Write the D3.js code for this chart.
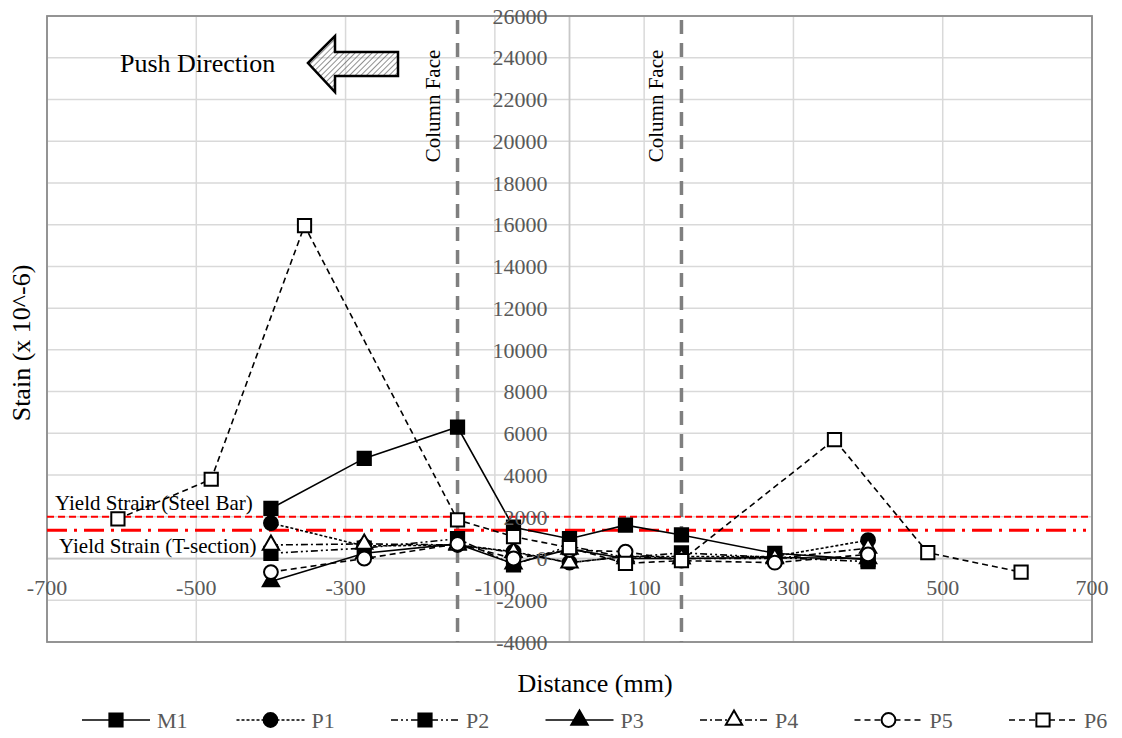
<!DOCTYPE html>
<html>
<head>
<meta charset="utf-8">
<script src="https://cdn.jsdelivr.net/npm/d3@7"></script>
<style>
  body { margin: 0; background: #fff; }
  text { font-family: "Liberation Serif", "Times New Roman", serif; }
</style>
</head>
<body>
<svg id="chart" width="1122" height="738"></svg>
<script>
// strain gauge positions (mm) and readings (x 10^-6)
var gaugeX = [-400, -275, -150, -75, 0, 75, 150, 275, 400];
var m1 = [2400, 4800, 6300, 1500, 950, 1600, 1130, 250, -50];
var p1 = [1700, 600, 650, 330, -200, 100, 100, 100, 880];
var p2 = [250, 500, 950, -300, 600, 50, 270, 50, -150];
var p3 = [-1100, 250, 700, -250, 450, 0, 0, 50, 0];
var p4 = [650, 700, 650, 300, -200, 100, 0, 0, 500];
var p5 = [-650, 0, 700, 0, 400, 330, -100, -200, 200];
var p6X = [-605, -480, -355, -150, -75, 0, 75, 150, 355, 480, 605];
var p6 = [1900, 3800, 15950, 1850, 1050, 520, -230, -100, 5700, 280, -650];

var yieldSteelBar = 2000;
var yieldTSection = 1350;
var columnFaces = [-150, 150];

var xTicks = [-700, -500, -300, -100, 100, 300, 500, 700];
var yTicks = d3.range(-4000, 26001, 2000);

var series = [
  {name: 'M1', xs: gaugeX, ys: m1, dash: null, marker: 'square', fill: '#000'},
  {name: 'P1', xs: gaugeX, ys: p1, dash: '3,2', marker: 'circle', fill: '#000'},
  {name: 'P2', xs: gaugeX, ys: p2, dash: '7,3,2,3,2,3', marker: 'square', fill: '#000'},
  {name: 'P3', xs: gaugeX, ys: p3, dash: null, marker: 'triangle', fill: '#000'},
  {name: 'P4', xs: gaugeX, ys: p4, dash: '7,3,2,3', marker: 'triangle', fill: '#fff'},
  {name: 'P5', xs: gaugeX, ys: p5, dash: '6,4', marker: 'circle', fill: '#fff'},
  {name: 'P6', xs: p6X, ys: p6, dash: '6,4', marker: 'square', fill: '#fff'}
];

var svg = d3.select('#chart');
var plotLeft = 47, plotRight = 1092, plotTop = 16, plotBottom = 642;

var x = d3.scaleLinear().domain([-700, 700]).range([plotLeft, plotRight]);
var y = d3.scaleLinear().domain([-4000, 26000]).range([plotBottom, plotTop]);

// hatch pattern for the arrow
var defs = svg.append('defs');
defs.append('pattern')
    .attr('id', 'hatch')
    .attr('patternUnits', 'userSpaceOnUse')
    .attr('width', 4).attr('height', 4)
    .attr('patternTransform', 'rotate(45)')
  .append('line')
    .attr('x1', 0).attr('y1', 0).attr('x2', 0).attr('y2', 4)
    .attr('stroke', '#555').attr('stroke-width', 1.3);

// gridlines
svg.append('g')
  .selectAll('line')
  .data(yTicks)
  .enter().append('line')
    .attr('x1', plotLeft).attr('x2', plotRight)
    .attr('y1', d => y(d)).attr('y2', d => y(d))
    .attr('stroke', '#d9d9d9').attr('stroke-width', 1.5);

svg.append('g')
  .selectAll('line')
  .data(xTicks)
  .enter().append('line')
    .attr('x1', d => x(d)).attr('x2', d => x(d))
    .attr('y1', plotTop).attr('y2', plotBottom)
    .attr('stroke', '#d9d9d9').attr('stroke-width', 1.5);

// axis lines crossing at zero
svg.append('line')
    .attr('x1', x(0)).attr('x2', x(0)).attr('y1', plotTop).attr('y2', plotBottom)
    .attr('stroke', '#c8c8c8').attr('stroke-width', 1.8);
svg.append('line')
    .attr('x1', plotLeft).attr('x2', plotRight).attr('y1', y(0)).attr('y2', y(0))
    .attr('stroke', '#c8c8c8').attr('stroke-width', 1.8);

// plot border
svg.append('rect')
    .attr('x', plotLeft).attr('y', plotTop)
    .attr('width', plotRight - plotLeft).attr('height', plotBottom - plotTop)
    .attr('fill', 'none').attr('stroke', '#8c8c8c').attr('stroke-width', 1.8);

// column faces
svg.append('g')
  .selectAll('line')
  .data(columnFaces)
  .enter().append('line')
    .attr('x1', d => x(d)).attr('x2', d => x(d))
    .attr('y1', plotTop + 4).attr('y2', plotBottom)
    .attr('stroke', '#7f7f7f').attr('stroke-width', 3.5)
    .attr('stroke-dasharray', '14,9');

svg.append('g')
  .selectAll('text')
  .data(columnFaces)
  .enter().append('text')
    .attr('transform', d => 'translate(' + (x(d) - 18) + ',106) rotate(-90)')
    .attr('text-anchor', 'middle')
    .attr('font-size', 21)
    .text('Column Face');

// yield strain lines
svg.append('line')
    .attr('x1', plotLeft).attr('x2', plotRight)
    .attr('y1', y(yieldSteelBar)).attr('y2', y(yieldSteelBar))
    .attr('stroke', '#ff0000').attr('stroke-width', 2)
    .attr('stroke-dasharray', '7,4');
svg.append('line')
    .attr('x1', plotLeft).attr('x2', plotRight - 6)
    .attr('y1', y(yieldTSection)).attr('y2', y(yieldTSection))
    .attr('stroke', '#ff0000').attr('stroke-width', 3)
    .attr('stroke-dasharray', '20,7,3,7');

svg.append('text')
    .attr('x', 55).attr('y', y(yieldSteelBar) - 7)
    .attr('font-size', 21)
    .text('Yield Strain (Steel Bar)');
svg.append('text')
    .attr('x', 59).attr('y', y(yieldTSection) + 23)
    .attr('font-size', 21)
    .text('Yield Strain (T-section)');

// marker shapes
function markerPath(type) {
  if (type === 'square') return d3.symbol().type(d3.symbolSquare).size(175)();
  if (type === 'circle') return d3.symbol().type(d3.symbolCircle).size(150)();
  return d3.symbol().type(d3.symbolTriangle).size(115)();
}

var line = d3.line().x(d => x(d[0])).y(d => y(d[1]));

series.forEach(function(s) {
  var pts = s.xs.map((v, i) => [v, s.ys[i]]);
  var g = svg.append('g');
  g.append('path')
      .attr('d', line(pts))
      .attr('fill', 'none')
      .attr('stroke', '#000')
      .attr('stroke-width', 1.6)
      .attr('stroke-dasharray', s.dash);
  g.selectAll('path.mk')
    .data(pts)
    .enter().append('path')
      .attr('class', 'mk')
      .attr('d', markerPath(s.marker))
      .attr('transform', d => 'translate(' + x(d[0]) + ',' + y(d[1]) + ')')
      .attr('fill', s.fill)
      .attr('stroke', '#000')
      .attr('stroke-width', 2);
});

// tick labels
svg.append('g')
  .selectAll('text')
  .data(yTicks)
  .enter().append('text')
    .attr('x', x(0) - 22)
    .attr('y', d => y(d))
    .attr('dy', '0.35em')
    .attr('text-anchor', 'end')
    .attr('font-size', 22)
    .attr('fill', '#595959')
    .text(d => d);

svg.append('g')
  .selectAll('text')
  .data(xTicks)
  .enter().append('text')
    .attr('x', d => x(d))
    .attr('y', y(0) + 29)
    .attr('dy', '0.35em')
    .attr('text-anchor', 'middle')
    .attr('font-size', 22)
    .attr('fill', '#595959')
    .text(d => d);

// axis titles
svg.append('text')
    .attr('transform', 'translate(30,343) rotate(-90)')
    .attr('text-anchor', 'middle')
    .attr('font-size', 26)
    .text('Stain (x 10^-6)');
svg.append('text')
    .attr('x', 595).attr('y', 692)
    .attr('text-anchor', 'middle')
    .attr('font-size', 26)
    .text('Distance (mm)');

// push direction note with hatched arrow
svg.append('text')
    .attr('x', 120).attr('y', 72)
    .attr('font-size', 26)
    .text('Push Direction');
svg.append('path')
    .attr('d', 'M308,63 L335,36 L335,52 L398,52 L398,76 L335,76 L335,92 Z')
    .attr('fill', 'url(#hatch)')
    .attr('stroke', '#000').attr('stroke-width', 2.5)
    .attr('stroke-linejoin', 'miter');

// legend
var legend = svg.append('g')
  .selectAll('g')
  .data(series)
  .enter().append('g')
    .attr('transform', (d, i) => 'translate(' + (116 + i * 154.5) + ',720)');
legend.append('line')
    .attr('x1', -34).attr('x2', 34)
    .attr('stroke', '#000').attr('stroke-width', 1.6)
    .attr('stroke-dasharray', d => d.dash);
legend.append('path')
    .attr('d', d => markerPath(d.marker))
    .attr('fill', d => d.fill)
    .attr('stroke', '#000').attr('stroke-width', 2);
legend.append('text')
    .attr('x', 41).attr('dy', '0.35em')
    .attr('font-size', 22)
    .attr('fill', '#595959')
    .text(d => d.name);
</script>
</body>
</html>
